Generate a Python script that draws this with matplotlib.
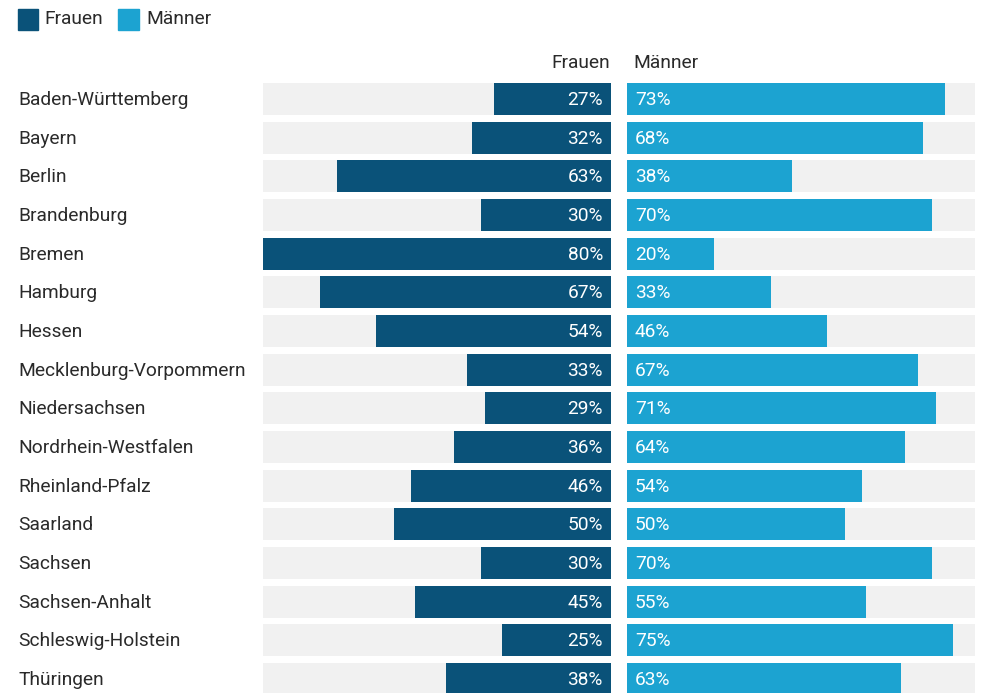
import matplotlib
matplotlib.use("Agg")
import matplotlib.pyplot as plt
from matplotlib.patches import Rectangle

plt.rcParams['font.family'] = ['Roboto', 'DejaVu Sans']

states = ["Baden-Württemberg", "Bayern", "Berlin", "Brandenburg", "Bremen",
          "Hamburg", "Hessen", "Mecklenburg-Vorpommern", "Niedersachsen",
          "Nordrhein-Westfalen", "Rheinland-Pfalz", "Saarland", "Sachsen",
          "Sachsen-Anhalt", "Schleswig-Holstein", "Thüringen"]
frauen = [27, 32, 63, 30, 80, 67, 54, 33, 29, 36, 46, 50, 30, 45, 25, 38]
maenner = [73, 68, 38, 70, 20, 33, 46, 67, 71, 64, 54, 50, 70, 55, 75, 63]
scale_max = 80

c_f = "#0a5279"
c_m = "#1ca3d1"
c_bg = "#f1f1f1"
c_txt = "#2a2a2a"

W, H = 981, 693
fig = plt.figure(figsize=(W / 100, H / 100), dpi=100)

def px_axes(x0, y0, x1, y1):
    return fig.add_axes([x0 / W, 1 - y1 / H, (x1 - x0) / W, (y1 - y0) / H])

row_h = 38.67
top_px, bot_px = 80, 693
y_top = -(99 - top_px) / row_h
y_bot = (bot_px - 99) / row_h
bh = 32 / row_h

ax_l = px_axes(263, top_px, 611, bot_px)
ax_r = px_axes(627, top_px, 975, bot_px)
ypos = list(range(len(states)))

ax_l.barh(ypos, [scale_max] * len(states), height=bh, color=c_bg)
ax_l.barh(ypos, frauen, height=bh, color=c_f)
ax_l.set_xlim(scale_max, 0)
ax_r.barh(ypos, [scale_max] * len(states), height=bh, color=c_bg)
ax_r.barh(ypos, maenner, height=bh, color=c_m)
ax_r.set_xlim(0, scale_max)

for ax in (ax_l, ax_r):
    ax.set_ylim(y_bot, y_top)
    ax.axis("off")

fs = 13.8
for i, (s, f, m) in enumerate(zip(states, frauen, maenner)):
    y = 1 - (100 + i * row_h) / H
    fig.text(18 / W, y, s, fontsize=fs, color=c_txt, ha="left", va="center")
    fig.text(603 / W, y, f"{f}%", fontsize=fs, color="white", ha="right", va="center")
    fig.text(635 / W, y, f"{m}%", fontsize=fs, color="white", ha="left", va="center")

fig.text(610 / W, 1 - 63 / H, "Frauen", fontsize=fs, color=c_txt, ha="right", va="center")
fig.text(633 / W, 1 - 63 / H, "Männer", fontsize=fs, color=c_txt, ha="left", va="center")

# legend
fig.patches.append(Rectangle((18 / W, 1 - 30 / H), 20 / W, 21 / H, color=c_f,
                             transform=fig.transFigure, figure=fig))
fig.text(44 / W, 1 - 19 / H, "Frauen", fontsize=fs, color=c_txt, ha="left", va="center")
fig.patches.append(Rectangle((118 / W, 1 - 30 / H), 21 / W, 21 / H, color=c_m,
                             transform=fig.transFigure, figure=fig))
fig.text(146 / W, 1 - 19 / H, "Männer", fontsize=fs, color=c_txt, ha="left", va="center")

fig.savefig("out.png", dpi=100)
